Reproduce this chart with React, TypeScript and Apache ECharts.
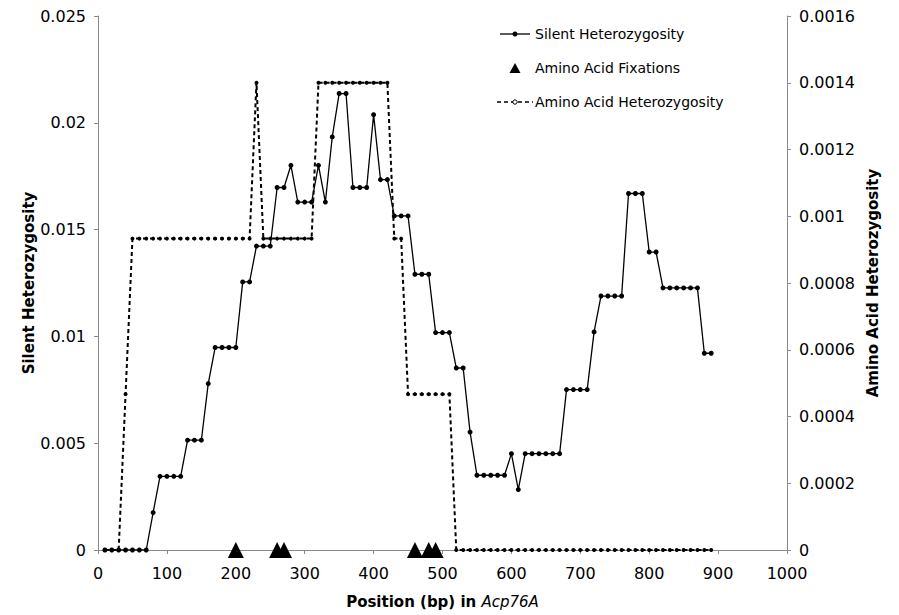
import React, { useEffect, useRef } from "react";
import * as echarts from "echarts";

const positions = [
  10, 20, 30, 40, 50, 60, 70, 80, 90, 100, 110, 120, 130, 140, 150, 160, 170, 180, 190, 200,
  210, 220, 230, 240, 250, 260, 270, 280, 290, 300, 310, 320, 330, 340, 350, 360, 370, 380, 390, 400,
  410, 420, 430, 440, 450, 460, 470, 480, 490, 500, 510, 520, 530, 540, 550, 560, 570, 580, 590, 600,
  610, 620, 630, 640, 650, 660, 670, 680, 690, 700, 710, 720, 730, 740, 750, 760, 770, 780, 790, 800,
  810, 820, 830, 840, 850, 860, 870, 880, 890,
];

const silentHet = [
  0, 0, 0, 0, 0, 0, 0, 0.00175, 0.00345, 0.00345, 0.00345, 0.00345, 0.00514, 0.00514, 0.00514, 0.00779, 0.00948, 0.00948, 0.00948, 0.00948,
  0.01255, 0.01255, 0.01423, 0.01423, 0.01423, 0.01697, 0.01697, 0.01801, 0.01629, 0.01629, 0.01629, 0.01801, 0.01629, 0.01934, 0.02137, 0.02137, 0.01697, 0.01697, 0.01697, 0.02038,
  0.01734, 0.01734, 0.01564, 0.01564, 0.01564, 0.01291, 0.01291, 0.01291, 0.01018, 0.01018, 0.01018, 0.00852, 0.00852, 0.00552, 0.0035, 0.0035, 0.0035, 0.0035, 0.0035, 0.00451,
  0.00283, 0.00451, 0.00451, 0.00451, 0.00451, 0.00451, 0.00451, 0.00751, 0.00751, 0.00751, 0.00751, 0.01021, 0.01189, 0.01189, 0.01189, 0.01189, 0.01669, 0.01669, 0.01669, 0.01395,
  0.01395, 0.01227, 0.01227, 0.01227, 0.01227, 0.01227, 0.01227, 0.00921, 0.00921,
];

const aminoHet = [
  0, 0, 0, 0.000467, 0.000933, 0.000933, 0.000933, 0.000933, 0.000933, 0.000933, 0.000933, 0.000933, 0.000933, 0.000933, 0.000933, 0.000933, 0.000933, 0.000933, 0.000933, 0.000933,
  0.000933, 0.000933, 0.0014, 0.000933, 0.000933, 0.000933, 0.000933, 0.000933, 0.000933, 0.000933, 0.000933, 0.0014, 0.0014, 0.0014, 0.0014, 0.0014, 0.0014, 0.0014, 0.0014, 0.0014,
  0.0014, 0.0014, 0.000933, 0.000933, 0.000467, 0.000467, 0.000467, 0.000467, 0.000467, 0.000467, 0.000467, 0, 0, 0, 0, 0, 0, 0, 0, 0,
  0, 0, 0, 0, 0, 0, 0, 0, 0, 0, 0, 0, 0, 0, 0, 0, 0, 0, 0, 0,
  0, 0, 0, 0, 0, 0, 0, 0, 0,
];

const fixationPositions = [200, 260, 270, 460, 480, 490];
const fixationValues = [0, 0, 0, 0, 0, 0];

const legendLabels = ["Silent Heterozygosity", "Amino Acid Fixations", "Amino Acid Heterozygosity"];

const xTicks = { min: 0, max: 1000, interval: 100 };
const leftTicks = { min: 0, max: 0.025, interval: 0.005 };
const rightTicks = { min: 0, max: 0.0016, interval: 0.0002 };

const FONT = "DejaVu Sans";
const fmt = (v: number) => String(parseFloat(v.toPrecision(6)));

export default function App() {
  const ref = useRef<HTMLDivElement>(null);
  useEffect(() => {
    if (!ref.current) return;
    const chart = echarts.init(ref.current, undefined, { renderer: "svg" });
    const axisLine = { show: true, lineStyle: { color: "#8a8a8a", width: 1 } };
    const axisTick = { show: true, length: 4, lineStyle: { color: "#8a8a8a" } };
    const axisLabel = { color: "#000", fontSize: 16, fontFamily: FONT };
    const legendText = (y: number, text: string) => ({
      type: "text",
      x: 535,
      y,
      style: { text, fill: "#000", font: `14px "${FONT}"`, verticalAlign: "middle", align: "left" },
    });
    chart.setOption({
      animation: false,
      backgroundColor: "#fff",
      grid: { left: 98, right: 112, top: 16, bottom: 65 },
      graphic: [
        { type: "line", shape: { x1: 500, y1: 34, x2: 530, y2: 34 }, style: { stroke: "#000", lineWidth: 1.3 } },
        { type: "circle", shape: { cx: 515, cy: 34, r: 2.5 }, style: { fill: "#000" } },
        legendText(34, legendLabels[0]),
        { type: "polygon", shape: { points: [[509.5, 73], [520.5, 73], [515, 63]] }, style: { fill: "#000" } },
        legendText(68, legendLabels[1]),
        { type: "line", shape: { x1: 497, y1: 102, x2: 533, y2: 102 }, style: { stroke: "#000", lineWidth: 1.5, lineDash: [4, 3] } },
        { type: "circle", shape: { cx: 515, cy: 102, r: 2.2 }, style: { fill: "#fff", stroke: "#000", lineWidth: 1 } },
        legendText(102, legendLabels[2]),
      ],
      xAxis: {
        type: "value",
        ...xTicks,
        axisLine,
        axisTick,
        axisLabel: { ...axisLabel, margin: 15, formatter: (v: number) => String(v) },
        splitLine: { show: false },
        name: "{b|Position (bp) in }{i|Acp76A}",
        nameLocation: "middle",
        nameGap: 44,
        nameTextStyle: {
          rich: {
            b: { fontWeight: "bold", fontSize: 15, fontFamily: FONT, color: "#000" },
            i: { fontStyle: "italic", fontSize: 15, fontFamily: FONT, color: "#000" },
          },
        },
      },
      yAxis: [
        {
          type: "value",
          ...leftTicks,
          position: "left",
          axisLine,
          axisTick,
          axisLabel: { ...axisLabel, margin: 12, formatter: fmt },
          splitLine: { show: false },
          name: "Silent Heterozygosity",
          nameLocation: "middle",
          nameRotate: 90,
          nameGap: 62,
          nameMoveOverlap: false,
          nameTextStyle: { fontWeight: "bold", fontSize: 15, fontFamily: FONT, color: "#000" },
        },
        {
          type: "value",
          ...rightTicks,
          position: "right",
          axisLine,
          axisTick,
          axisLabel: { ...axisLabel, margin: 12, formatter: fmt },
          splitLine: { show: false },
          name: "Amino Acid Heterozygosity",
          nameLocation: "middle",
          nameRotate: 90,
          nameGap: 76,
          nameTextStyle: { fontWeight: "bold", fontSize: 15, fontFamily: FONT, color: "#000" },
        },
      ],
      series: [
        {
          name: "Amino Acid Heterozygosity",
          type: "line",
          yAxisIndex: 1,
          data: positions.map((p, i) => [p, aminoHet[i]]),
          symbol: "circle",
          symbolSize: 4,
          itemStyle: { color: "#000" },
          lineStyle: { color: "#000", width: 2, type: [4, 3] },
          z: 2,
        },
        {
          name: "Silent Heterozygosity",
          type: "line",
          yAxisIndex: 0,
          data: positions.map((p, i) => [p, silentHet[i]]),
          symbol: "circle",
          symbolSize: 5,
          itemStyle: { color: "#000" },
          lineStyle: { color: "#000", width: 1.3 },
          z: 3,
        },
        {
          name: "Amino Acid Fixations",
          type: "scatter",
          yAxisIndex: 0,
          data: fixationPositions.map((p, i) => [p, fixationValues[i]]),
          symbol: "triangle",
          symbolSize: 16,
          itemStyle: { color: "#000", opacity: 1 },
          z: 4,
        },
      ],
    });
    return () => chart.dispose();
  }, []);
  return (
    <div
      ref={ref}
      style={{ position: "fixed", left: 0, top: 0, width: 899, height: 615, background: "#fff" }}
    />
  );
}
